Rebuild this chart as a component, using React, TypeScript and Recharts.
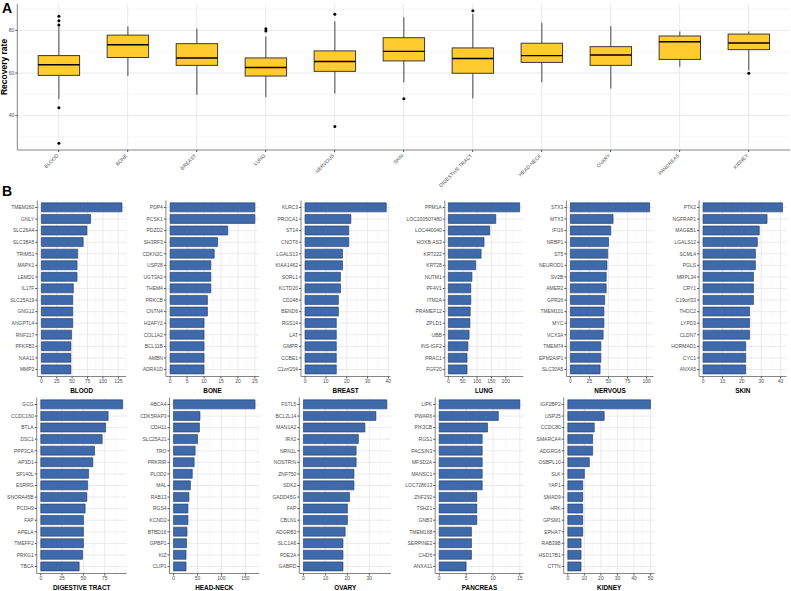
import React from 'react';
import { Bar, BarChart, CartesianGrid, ComposedChart, XAxis, YAxis } from 'recharts';

// ---------- panel A : recovery rate per tissue ----------
const tissues = ['BLOOD', 'BONE', 'BREAST', 'LUNG', 'NERVOUS', 'SKIN', 'DIGESTIVE TRACT', 'HEAD-NECK', 'OVARY', 'PANCREAS', 'KIDNEY'];
const whiskerLow = [47.8, 58.6, 49.8, 48.7, 50.4, 55.7, 48.1, 55.7, 52.7, 62.9, 61.3];
const lowerQuartile = [58.9, 67.3, 63.6, 58.6, 60.8, 65.7, 59.9, 65.0, 63.6, 66.4, 71.0];
const medians = [63.9, 73.3, 67.1, 62.6, 65.4, 70.2, 66.8, 68.2, 68.5, 74.7, 74.1];
const upperQuartile = [68.2, 77.8, 73.8, 67.1, 70.4, 76.6, 71.8, 74.0, 72.4, 77.4, 78.3];
const whiskerHigh = [81.8, 81.9, 80.9, 77.2, 84.3, 86.2, 87.8, 83.6, 82.0, 79.5, 79.5];
const outlierTissue = ['BLOOD', 'BLOOD', 'BLOOD', 'BLOOD', 'BLOOD', 'LUNG', 'LUNG', 'NERVOUS', 'NERVOUS', 'SKIN', 'DIGESTIVE TRACT', 'KIDNEY'];
const outlierValue = [86.7, 84.5, 82.6, 43.7, 27.0, 80.8, 79.8, 87.6, 34.9, 47.9, 89.3, 59.9];
const rateTicks = [40, 60, 80];

// ---------- panel B : top genes per tissue ----------
const bloodGenes = ['TMEM260', 'GNLY', 'SLC26A4', 'SLC38A5', 'TRIM51', 'MAPK1', 'LEMD1', 'IL17F', 'SLC25A19', 'GNG12', 'ANGPTL4', 'RNF217', 'PFKFB3', 'NAA11', 'MMP2'];
const bloodCounts = [131, 80, 74, 68, 59, 58, 58, 52, 51, 51, 51, 49, 48, 48, 48];
const bloodTicks = [0, 25, 50, 75, 100, 125];

const boneGenes = ['PDP4', 'PCSK1', 'PDZD2', 'SH3RF3', 'CDKN2C', 'USP28', 'UGT3A2', 'THEM4', 'PRKCB', 'CNTN4', 'H2AFY2', 'COL1A2', 'BCL11B', 'AMBN', 'ADRA1D'];
const boneCounts = [25, 25, 17, 14, 13, 12, 12, 12, 11, 11, 10, 10, 10, 10, 10];
const boneTicks = [0, 5, 10, 15, 20, 25];

const breastGenes = ['KLRC3', 'PROCA1', 'ST14', 'CNOT6', 'LGALS13', 'KIAA1462', 'SORL1', 'KCTD20', 'CD248', 'BEND6', 'RGS14', 'LAT', 'GMPR', 'CCBE1', 'C1orf204'];
const breastCounts = [39, 22, 21, 21, 18, 18, 17, 17, 16, 16, 15, 15, 15, 15, 15];
const breastTicks = [0, 10, 20, 30, 40];

const lungGenes = ['PPM1A', 'LOC100507480', 'LOC440040', 'HOXB-AS3', 'KRT222', 'KRT28', 'NUTM1', 'PF4V1', 'ITM2A', 'PRAMEF12', 'ZPLD1', 'UBB', 'INS-IGF2', 'PRAC1', 'FGF20'];
const lungCounts = [248, 165, 144, 124, 114, 95, 82, 78, 78, 76, 75, 72, 68, 65, 65];
const lungTicks = [0, 50, 100, 150, 200];

const nervousGenes = ['STX3', 'MTX3', 'IFI16', 'NRBP1', 'ST5', 'NEUROD1', 'SV2B', 'AMER2', 'GPR26', 'TMEM101', 'MYC', 'VCX3A', 'TMEM74', 'EPM2AIP1', 'SLC30A5'];
const nervousCounts = [104, 56, 53, 50, 49, 48, 47, 47, 45, 44, 44, 43, 40, 40, 39];
const nervousTicks = [0, 25, 50, 75, 100];

const skinGenes = ['PTK2', 'NGFRAP1', 'MAGEB1', 'LGALS12', 'SCML4', 'PGLS', 'MRPL34', 'CRY1', 'C19orf33', 'THOC2', 'LYPD3', 'CLDN7', 'HORMAD1', 'CYC1', 'ANXA5'];
const skinCounts = [41, 33, 29, 28, 27, 27, 26, 26, 26, 24, 24, 24, 22, 22, 22];
const skinTicks = [0, 10, 20, 30, 40];

const digestiveGenes = ['GCG', 'CCDC160', 'BTLA', 'DSC1', 'PPP3CA', 'AP3D1', 'SP140L', 'ESRRG', 'SNORA45B', 'PCDH9', 'FAP', 'APELA', 'TMEFF2', 'PRKG1', 'TBCA'];
const digestiveCounts = [96, 79, 76, 72, 63, 61, 56, 55, 54, 52, 50, 50, 50, 49, 45];
const digestiveTicks = [0, 25, 50, 75];

const headNeckGenes = ['ABCA4', 'CDK5RAP3', 'CDH11', 'SLC25A21', 'TRO', 'PRKRIR', 'PLOD2', 'MAL', 'RAB13', 'RGS4', 'KCND2', 'BTBD16', 'GPBP1', 'KIZ', 'CLIP1'];
const headNeckCounts = [170, 55, 54, 50, 45, 43, 39, 35, 32, 30, 30, 28, 27, 26, 26];
const headNeckTicks = [0, 50, 100, 150];

const ovaryGenes = ['FSTL5', 'BCL2L14', 'MAN1A2', 'IRX2', 'NRN1L', 'NOSTRIN', 'ZNF750', 'SDK2', 'GADD45G', 'FAP', 'CBLN1', 'ADGRB3', 'SLC1A6', 'PDE2A', 'GABRD'];
const ovaryCounts = [38, 33, 28, 25, 24, 24, 23, 23, 21, 20, 20, 19, 18, 18, 18];
const ovaryTicks = [0, 10, 20, 30];

const pancreasGenes = ['LIPK', 'PWAR6', 'PIK3CB', 'RGS1', 'PACSIN3', 'MFSD2A', 'MANSC1', 'LOC728613', 'ZNF292', 'TSHZ1', 'GNB3', 'TMEM168', 'SERPINE2', 'CHD6', 'ANXA11'];
const pancreasCounts = [15, 11, 9, 8, 8, 8, 8, 8, 7, 7, 7, 6, 6, 6, 5];
const pancreasTicks = [0, 5, 10, 15];

const kidneyGenes = ['IGF2BP2', 'USP25', 'CCDC80', 'SMARCA4', 'ADGRG6', 'OSBPL10', 'SLK', 'YAP1', 'SMAD9', 'HRK', 'GPSM1', 'EPHA7', 'RAB39B', 'HSD17B1', 'CTTN'];
const kidneyCounts = [50, 22, 16, 15, 15, 13, 10, 9, 9, 9, 9, 9, 8, 8, 8];
const kidneyTicks = [0, 10, 20, 30, 40, 50];

const panels = [
  { title: 'BLOOD', genes: bloodGenes, counts: bloodCounts, ticks: bloodTicks },
  { title: 'BONE', genes: boneGenes, counts: boneCounts, ticks: boneTicks },
  { title: 'BREAST', genes: breastGenes, counts: breastCounts, ticks: breastTicks },
  { title: 'LUNG', genes: lungGenes, counts: lungCounts, ticks: lungTicks },
  { title: 'NERVOUS', genes: nervousGenes, counts: nervousCounts, ticks: nervousTicks },
  { title: 'SKIN', genes: skinGenes, counts: skinCounts, ticks: skinTicks },
  { title: 'DIGESTIVE TRACT', genes: digestiveGenes, counts: digestiveCounts, ticks: digestiveTicks },
  { title: 'HEAD-NECK', genes: headNeckGenes, counts: headNeckCounts, ticks: headNeckTicks },
  { title: 'OVARY', genes: ovaryGenes, counts: ovaryCounts, ticks: ovaryTicks },
  { title: 'PANCREAS', genes: pancreasGenes, counts: pancreasCounts, ticks: pancreasTicks },
  { title: 'KIDNEY', genes: kidneyGenes, counts: kidneyCounts, ticks: kidneyTicks },
];

// layout only (label column width / right gap of each small panel, in px)
const slotAxisWidth = [37.3, 33.9, 37, 48.8, 39.4, 40.1, 36.7, 37.5, 35.3, 39.2, 36.7];
const slotRightGap = [5.8, 4.7, 5.5, 4.6, 5.2, 4.3, 5.1, 4.7, 4.8, 4.0, 4.2];

const FONT = '"Liberation Sans", Arial, Helvetica, sans-serif';
const FRAME = '#858585';
const GRID_MAJOR = '#e6e6e6';
const GRID_MINOR = '#f1f1f1';
const TICK_TEXT = '#4d4d4d';
const CELL_W = 791 / 6;

function minorBreaks(ticks: number[], lo: number, hi: number): number[] {
  const step = ticks[1] - ticks[0];
  const all = [ticks[0] - step / 2, ...ticks.map(t => t + step / 2)];
  return all.filter(v => v >= lo && v <= hi);
}

// box drawn inside the whisker range bar; quartiles placed on the same linear scale
function BoxShape(props: any) {
  const { x, y, width, height, payload } = props;
  if (!payload) return null;
  const top = Math.min(y, y + height);
  const span = Math.abs(height);
  const toY = (v: number) => top + ((payload.high - v) / (payload.high - payload.low)) * span;
  const cx = x + width / 2;
  const yQ3 = toY(payload.q3);
  const yQ1 = toY(payload.q1);
  return (
    <g>
      <line x1={cx} x2={cx} y1={top} y2={top + span} stroke="#333" strokeWidth={0.9} />
      <rect x={x} y={yQ3} width={width} height={yQ1 - yQ3} fill="#FFCB2F" stroke="#3a3a3a" strokeWidth={1} />
      <line x1={x} x2={x + width} y1={toY(payload.median)} y2={toY(payload.median)} stroke="#000" strokeWidth={1.4} />
      {payload.outliers.map((v: number, i: number) => (
        <circle key={i} cx={cx} cy={toY(v)} r={1.5} fill="#000" />
      ))}
    </g>
  );
}

function TissueTick(props: any) {
  const { x, y, payload } = props;
  return (
    <text x={x} y={y + 2} transform={`rotate(-45 ${x} ${y + 2})`} textAnchor="end" fontSize={5} fill={TICK_TEXT} fontFamily={FONT}>
      {payload.value}
    </text>
  );
}

function RecoveryBoxplot() {
  const boxData = tissues.map((t, i) => ({
    tissue: t,
    range: [whiskerLow[i], whiskerHigh[i]],
    low: whiskerLow[i],
    high: whiskerHigh[i],
    q1: lowerQuartile[i],
    median: medians[i],
    q3: upperQuartile[i],
    outliers: outlierValue.filter((_, j) => outlierTissue[j] === t),
  }));
  const allValues = [...whiskerLow, ...whiskerHigh, ...outlierValue];
  const vMin = Math.min(...allValues);
  const vMax = Math.max(...allValues);
  const pad = (vMax - vMin) * 0.05;
  const domain = [vMin - pad, vMax + pad];
  const minor = minorBreaks(rateTicks, domain[0], domain[1]);

  return (
    <ComposedChart width={791} height={190} data={boxData} margin={{ top: 4, right: 1, bottom: 0, left: 0 }}>
      <CartesianGrid vertical={false} horizontalValues={minor} stroke={GRID_MINOR} strokeWidth={0.6} />
      <CartesianGrid horizontalValues={rateTicks} verticalValues={tissues} stroke={GRID_MAJOR} strokeWidth={0.9} />
      <XAxis
        dataKey="tissue"
        type="category"
        interval={0}
        padding={{ left: 6.9, right: 6.9 }}
        height={40}
        tickSize={2}
        tickLine={{ stroke: '#555' }}
        axisLine={{ stroke: FRAME }}
        tick={<TissueTick />}
      />
      <XAxis xAxisId="frameTop" orientation="top" height={0} tick={false} tickLine={false} axisLine={{ stroke: FRAME }} />
      <YAxis
        type="number"
        domain={domain}
        ticks={rateTicks}
        allowDataOverflow
        width={17.3}
        tickSize={2}
        tickMargin={1}
        tickLine={{ stroke: '#555' }}
        axisLine={{ stroke: FRAME }}
        tick={{ fontSize: 5, fill: TICK_TEXT, fontFamily: FONT }}
        label={(p: any) => {
          const vb = p.viewBox || { y: 4, height: 146 };
          const cy = vb.y + vb.height / 2 - 10;
          return (
            <text x={7} y={cy} transform={`rotate(-90 7 ${cy})`} textAnchor="middle" fontSize={8.5} fontWeight="bold" fill="#000" fontFamily={FONT}>
              Recovery rate
            </text>
          );
        }}
      />
      <YAxis yAxisId="frameRight" orientation="right" width={0} tick={false} tickLine={false} axisLine={{ stroke: FRAME }} />
      <Bar dataKey="range" barSize={41.4} shape={<BoxShape />} isAnimationActive={false} />
    </ComposedChart>
  );
}

type GenePanelProps = {
  title: string;
  genes: string[];
  counts: number[];
  ticks: number[];
  axisWidth: number;
  rightGap: number;
};

function GenePanel({ title, genes, counts, ticks, axisWidth, rightGap }: GenePanelProps) {
  const data = genes.map((g, i) => ({ gene: g, count: counts[i] }));
  const max = Math.max(...counts);
  const domain = [-0.05 * max, 1.05 * max];
  const minor = minorBreaks(ticks, domain[0], domain[1]);

  return (
    <BarChart
      layout="vertical"
      width={CELL_W}
      height={200.5}
      data={data}
      margin={{ top: 5.5, right: rightGap, bottom: 0, left: 0 }}
      barCategoryGap="10%"
    >
      <CartesianGrid horizontal={false} verticalValues={minor} stroke={GRID_MINOR} strokeWidth={0.5} />
      <CartesianGrid verticalValues={ticks} horizontalValues={genes} stroke={GRID_MAJOR} strokeWidth={0.8} />
      <XAxis
        type="number"
        domain={domain}
        ticks={ticks}
        interval={0}
        allowDataOverflow
        height={19}
        tickSize={2}
        tickMargin={0.5}
        tickLine={{ stroke: '#555' }}
        axisLine={{ stroke: FRAME }}
        tick={{ fontSize: 5, fill: TICK_TEXT, fontFamily: FONT }}
        label={(p: any) => {
          const vb = p.viewBox || { x: 0, y: 0, width: 0 };
          return (
            <text x={vb.x + vb.width / 2} y={vb.y + 16.5} textAnchor="middle" fontSize={6.4} fontWeight="bold" fill="#000" fontFamily={FONT}>
              {title}
            </text>
          );
        }}
      />
      <XAxis xAxisId="frameTop" type="number" orientation="top" height={0} tick={false} tickLine={false} axisLine={{ stroke: FRAME }} />
      <YAxis
        type="category"
        dataKey="gene"
        interval={0}
        width={axisWidth}
        padding={{ top: 1.2, bottom: 1.2 }}
        tickSize={2}
        tickMargin={1}
        tickLine={{ stroke: '#555' }}
        axisLine={{ stroke: FRAME }}
        tick={{ fontSize: 5, fill: TICK_TEXT, fontFamily: FONT }}
      />
      <YAxis yAxisId="frameRight" type="number" orientation="right" width={0} tick={false} tickLine={false} axisLine={{ stroke: FRAME }} />
      <Bar dataKey="count" fill="#3E6AAB" stroke="#1D3768" strokeWidth={0.6} isAnimationActive={false} />
    </BarChart>
  );
}

export default function App() {
  return (
    <div
      style={{
        position: 'absolute',
        left: 0,
        top: 0,
        width: 791,
        height: 591,
        overflow: 'hidden',
        background: '#fff',
        fontFamily: FONT,
      }}
    >
      <div style={{ position: 'absolute', left: 0, top: 0 }}>
        <RecoveryBoxplot />
      </div>
      <div style={{ position: 'absolute', left: 2, top: 0, fontSize: 14, lineHeight: '16px', fontWeight: 'bold' }}>A</div>
      <div style={{ position: 'absolute', left: 2, top: 183, fontSize: 14, lineHeight: '16px', fontWeight: 'bold' }}>B</div>
      {panels.map((p, i) => {
        const row = i < 6 ? 0 : 1;
        const col = i < 6 ? i : i - 6;
        return (
          <div key={p.title} style={{ position: 'absolute', left: col * CELL_W, top: row === 0 ? 195 : 391.5 }}>
            <GenePanel
              title={p.title}
              genes={p.genes}
              counts={p.counts}
              ticks={p.ticks}
              axisWidth={slotAxisWidth[i]}
              rightGap={slotRightGap[i]}
            />
          </div>
        );
      })}
    </div>
  );
}
